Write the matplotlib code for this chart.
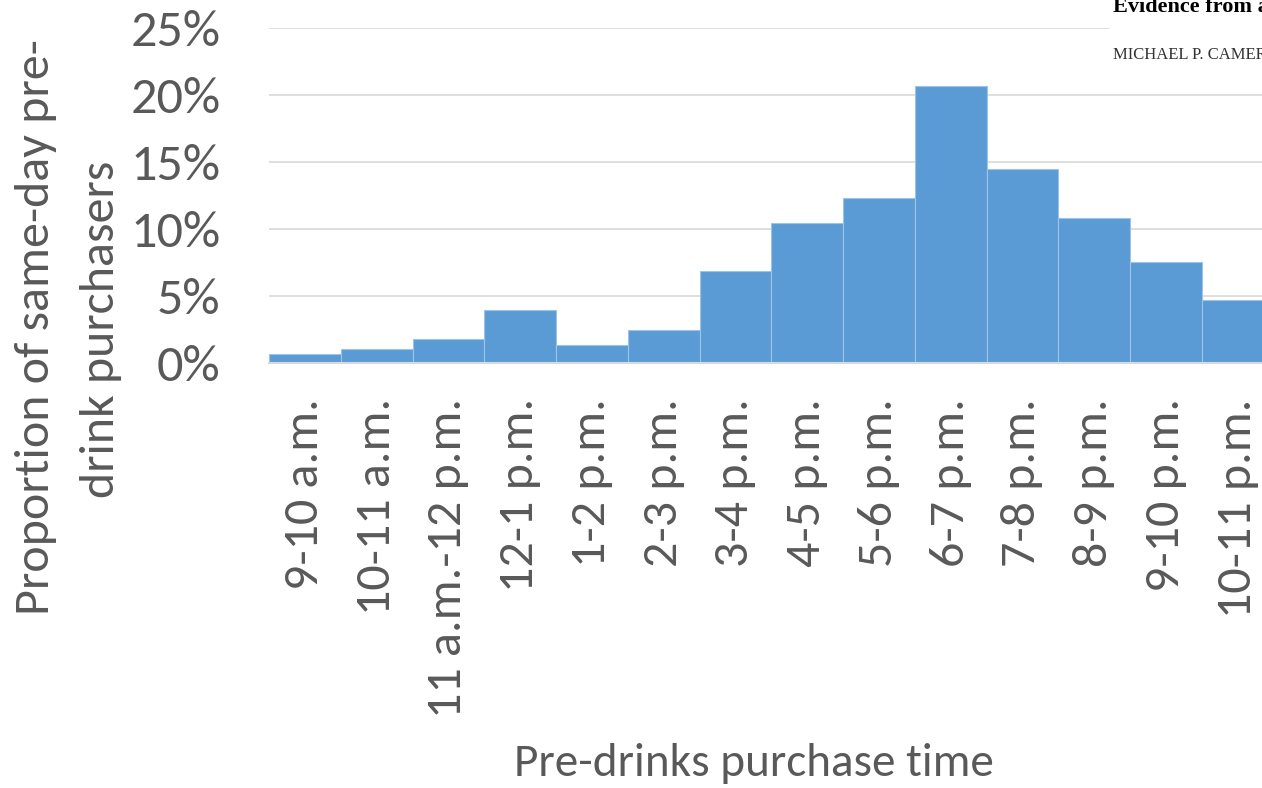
import matplotlib.pyplot as plt
import numpy as np

# Hourly slots and share of same-day pre-drink purchasers (%)
time_slots = ['9-10 a.m.', '10-11 a.m.', '11 a.m.-12 p.m.', '12-1 p.m.', '1-2 p.m.',
              '2-3 p.m.', '3-4 p.m.', '4-5 p.m.', '5-6 p.m.', '6-7 p.m.',
              '7-8 p.m.', '8-9 p.m.', '9-10 p.m.', '10-11 p.m.']
share_pct = [0.7, 1.05, 1.8, 3.95, 1.4, 2.5, 6.9, 10.5, 12.35, 20.7,
             14.5, 10.85, 7.6, 4.7]
y_ticks = [0, 5, 10, 15, 20, 25]

plt.rcParams['font.family'] = ['Carlito', 'Lato', 'DejaVu Sans']
txt = '#595959'

fig = plt.figure(figsize=(12.62, 7.88), dpi=100)
W, H = 1262, 788

# axes placed by pixel positions; the last bar runs past the right edge
left, right = 269 / W, (269 + 14 * 71.75) / W
bottom, top = 1 - 363.5 / H, 1 - 28 / H
ax = fig.add_axes([left, bottom, right - left, top - bottom])

x = np.arange(len(time_slots))
ax.bar(x, share_pct, width=1.0, color='#5b9bd5', edgecolor='#9dc3e6',
       linewidth=0.8, zorder=3)

ax.set_xlim(-0.5, len(time_slots) - 0.5)
ax.set_ylim(0, 25)
ax.set_yticks(y_ticks)
ax.set_yticklabels([f'{v}%' for v in y_ticks], fontsize=37.5, color=txt)
ax.set_xticks(x)
ax.set_xticklabels(time_slots, rotation=90, fontsize=36, color=txt, va='top')
ax.tick_params(axis='both', length=0)
ax.tick_params(axis='y', pad=35)
ax.tick_params(axis='x', pad=25)

ax.grid(axis='y', color='#d9d9d9', linewidth=1.2, zorder=0)
for s in ['top', 'right', 'left']:
    ax.spines[s].set_visible(False)
ax.spines['bottom'].set_color('#d9d9d9')
ax.spines['bottom'].set_linewidth(1.5)
ax.spines['bottom'].set_zorder(4)

fig.text(754 / W, 1 - 763 / H, 'Pre-drinks purchase time', fontsize=34,
         color=txt, ha='center', va='center')
fig.text(36 / W, 1 - 327 / H, 'Proportion of same-day pre-', fontsize=36,
         color=txt, ha='center', va='center', rotation=90)
fig.text(101 / W, 1 - 329 / H, 'drink purchasers', fontsize=36,
         color=txt, ha='center', va='center', rotation=90)

# pasted paper header in the top right corner
fig.patches.append(plt.Rectangle((1110 / W, 1 - 70 / H), 200 / W, 70 / H,
                                 transform=fig.transFigure, color='white',
                                 zorder=5))
fig.text(1113 / W, 1 - 12 / H, 'Evidence from a', fontsize=16, weight='bold',
         family='Liberation Serif', color='black', va='baseline', zorder=6)
fig.text(1113 / W, 1 - 59 / H, 'MICHAEL P. CAMERON', fontsize=12,
         family='Liberation Serif', color='#333333', va='baseline', zorder=6)

fig.savefig('out.png', dpi=100)
